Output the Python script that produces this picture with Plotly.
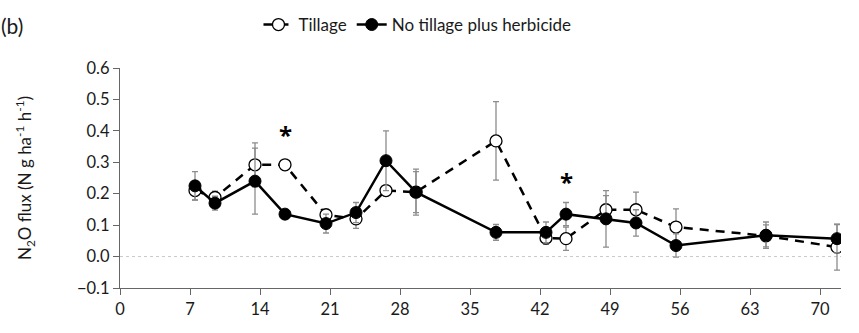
import plotly.graph_objects as go

# Sampling day of each measurement
days = [7.5, 9.5, 13.5, 16.5, 20.6, 23.6, 26.6, 29.6, 37.6, 42.6, 44.6, 48.6, 51.6, 55.6, 64.6, 71.7]

# N2O flux, mean and standard error
tillage = [0.21, 0.188, 0.292, 0.292, 0.133, 0.12, 0.21, 0.205, 0.368, 0.059, 0.057, 0.149, 0.149, 0.094, 0.066, 0.03]
tillage_err = [0.03, 0.02, 0.07, 0.005, 0.015, 0.03, 0.01, 0.073, 0.125, 0.02, 0.037, 0.045, 0.056, 0.058, 0.035, 0.073]

no_till = [0.225, 0.17, 0.24, 0.135, 0.105, 0.14, 0.305, 0.205, 0.077, 0.077, 0.135, 0.12, 0.107, 0.035, 0.068, 0.057]
no_till_err = [0.045, 0.022, 0.105, 0.015, 0.03, 0.032, 0.095, 0.065, 0.025, 0.033, 0.037, 0.09, 0.042, 0.037, 0.042, 0.045]

# Significant differences
sig_days = [16.5, 44.6]
sig_y = [0.40, 0.252]

x_ticks = [0, 7, 14, 21, 28, 35, 42, 49, 56, 63, 70]
y_ticks = [-0.1, 0.0, 0.1, 0.2, 0.3, 0.4, 0.5, 0.6]

FONT = "Lato"
TEXT = "#1a1a1a"
err_style = dict(type="data", color="#8c8c8c", thickness=1.3, width=3)

fig = go.Figure()
fig.add_trace(go.Scatter(
    x=days, y=tillage, name="Tillage", mode="lines+markers",
    line=dict(color="black", width=2.5, dash="9px,7px"),
    marker=dict(symbol="circle", size=12, color="white", line=dict(color="black", width=1.3)),
    error_y=dict(array=tillage_err, **err_style),
))
fig.add_trace(go.Scatter(
    x=days, y=no_till, name="No tillage plus herbicide", mode="lines+markers",
    line=dict(color="black", width=2.5),
    marker=dict(symbol="circle", size=12, color="black", line=dict(color="black", width=1)),
    error_y=dict(array=no_till_err, **err_style),
))

# Zero reference line
fig.add_shape(type="line", xref="paper", x0=0, x1=1, yref="y", y0=0, y1=0,
              line=dict(color="#c8c8c8", width=1, dash="dot"), layer="below")

for xd, yd in zip(sig_days, sig_y):
    fig.add_annotation(x=xd, y=yd, text="<b>*</b>", showarrow=False, yshift=-4,
                       font=dict(family="Open Sans", size=24, color="#000000"))

fig.add_annotation(xref="paper", yref="paper", x=-0.168, y=1.195, xanchor="left", yanchor="middle",
                   text="(b)", showarrow=False, font=dict(family=FONT, size=21, color=TEXT))

fig.update_layout(
    width=859, height=333,
    margin=dict(l=120, r=18, t=68, b=45, autoexpand=False),
    plot_bgcolor="white", paper_bgcolor="white",
    font=dict(family=FONT, size=16.5, color=TEXT),
    showlegend=True,
    legend=dict(orientation="h", xref="container", yref="container",
                x=0.486, xanchor="center", y=0.925, yanchor="middle",
                font=dict(family=FONT, size=17, color=TEXT), bgcolor="rgba(0,0,0,0)",
                tracegroupgap=0, itemwidth=30),
    xaxis=dict(range=[0, 72.1], tickvals=x_ticks, showgrid=False, zeroline=False,
               showline=True, linecolor="#666", linewidth=1.3,
               tickfont=dict(family=FONT, size=16.5, color=TEXT),
               ticks="outside", ticklen=6, tickcolor="#666", tickwidth=1.3),
    yaxis=dict(range=[-0.1, 0.6], tickvals=y_ticks, tickformat=".1f", showgrid=False, zeroline=False,
               showline=True, linecolor="#666", linewidth=1.3,
               tickfont=dict(family=FONT, size=16.5, color=TEXT),
               ticks="outside", ticklen=6, tickcolor="#666", tickwidth=1.3,
               title=dict(text="N<sub>2</sub>O flux (N g ha<sup>-1</sup> h<sup>-1</sup>)",
                          font=dict(family=FONT, size=17, color=TEXT), standoff=40)),
)

fig.write_html("out.html")
